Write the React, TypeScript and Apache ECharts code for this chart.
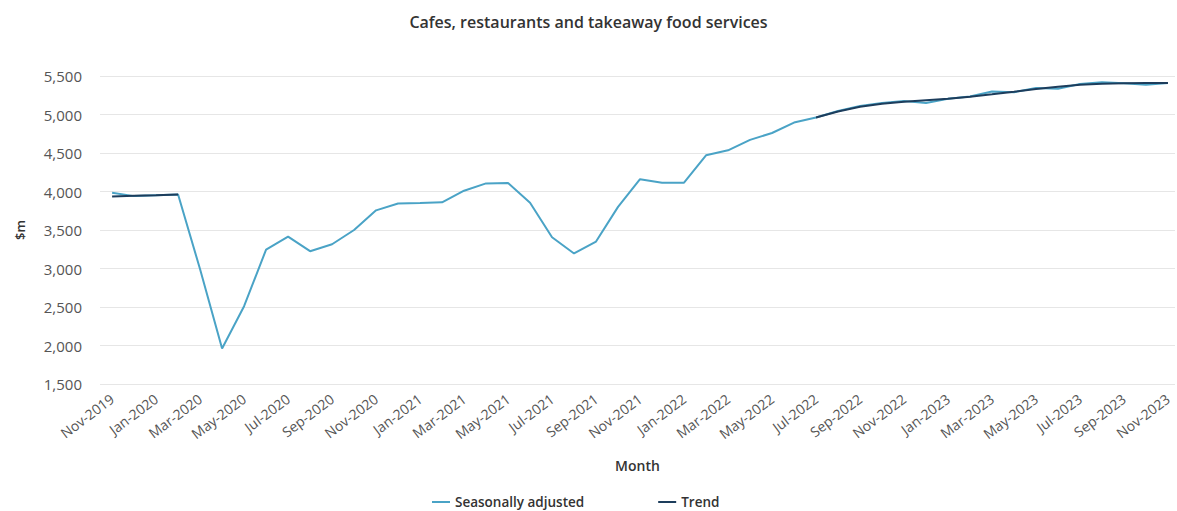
import React, { useEffect, useRef } from "react";
import * as echarts from "echarts";

const months = [
  "Nov-2019", "Dec-2019", "Jan-2020", "Feb-2020", "Mar-2020", "Apr-2020", "May-2020",
  "Jun-2020", "Jul-2020", "Aug-2020", "Sep-2020", "Oct-2020", "Nov-2020", "Dec-2020",
  "Jan-2021", "Feb-2021", "Mar-2021", "Apr-2021", "May-2021", "Jun-2021", "Jul-2021",
  "Aug-2021", "Sep-2021", "Oct-2021", "Nov-2021", "Dec-2021", "Jan-2022", "Feb-2022",
  "Mar-2022", "Apr-2022", "May-2022", "Jun-2022", "Jul-2022", "Aug-2022", "Sep-2022",
  "Oct-2022", "Nov-2022", "Dec-2022", "Jan-2023", "Feb-2023", "Mar-2023", "Apr-2023",
  "May-2023", "Jun-2023", "Jul-2023", "Aug-2023", "Sep-2023", "Oct-2023", "Nov-2023",
];

const seasonallyAdjusted = [
  3985, 3940, 3950, 3960, 2990, 1960, 2510, 3245, 3415, 3225, 3315, 3500, 3755, 3845,
  3850, 3860, 4010, 4105, 4110, 3855, 3405, 3195, 3350, 3800, 4160, 4115, 4115, 4470,
  4535, 4670, 4760, 4895, 4960, 5045, 5110, 5150, 5175, 5150, 5205, 5235, 5300, 5290,
  5345, 5335, 5395, 5420, 5405, 5385, 5410,
];

const trend: (number | null)[] = [
  3935, 3945, 3952, 3962, null, null, null, null, null, null, null, null, null, null,
  null, null, null, null, null, null, null, null, null, null, null, null, null, null,
  null, null, null, null, 4960, 5040, 5100, 5140, 5165, 5185, 5205, 5230, 5262, 5295,
  5330, 5360, 5385, 5400, 5405, 5408, 5410,
];

const labelIndices = months.map((_, i) => i).filter((i) => i % 2 === 0);

const SA_COLOR = "#4aa3c6";
const TREND_COLOR = "#1d3d5c";
const FONT = "'Open Sans', 'Noto Sans', sans-serif";

export default function App() {
  const ref = useRef<HTMLDivElement>(null);

  useEffect(() => {
    document.body.style.margin = "0";
    if (!ref.current) return;
    const chart = echarts.init(ref.current, undefined, { renderer: "svg" });
    chart.setOption({
      animation: false,
      textStyle: { fontFamily: FONT },
      title: {
        text: "Cafes, restaurants and takeaway food services",
        left: "center",
        top: 9,
        textStyle: { fontSize: 16, fontWeight: 600, color: "#333", fontFamily: FONT },
      },
      legend: {
        top: 494,
        left: 432,
        itemGap: 74,
        itemWidth: 18,
        itemHeight: 2,
        icon: "rect",
        padding: 0,
        textStyle: { fontSize: 13.5, fontWeight: 600, color: "#333", fontFamily: FONT, lineHeight: 16 },
        data: ["Seasonally adjusted", "Trend"],
      },
      grid: { left: 100, right: 2, top: 76, bottom: 127 },
      xAxis: {
        type: "value",
        min: -0.55,
        max: 48.32,
        name: "Month",
        nameLocation: "middle",
        nameGap: 74,
        nameTextStyle: { fontSize: 14, fontWeight: 600, color: "#333", fontFamily: FONT },
        axisLine: { show: false },
        axisTick: { show: false },
        splitLine: { show: false },
        axisLabel: {
          customValues: labelIndices,
          formatter: (v: number) => months[Math.round(v)] ?? "",
          rotate: 37,
          fontSize: 14,
          color: "#555",
          margin: 13,
          fontFamily: FONT,
        },
      },
      yAxis: {
        type: "value",
        min: 1500,
        max: 5500,
        interval: 500,
        name: "$m",
        nameLocation: "middle",
        nameGap: 74,
        nameTextStyle: { fontSize: 13, fontWeight: 600, color: "#333", fontFamily: FONT },
        axisLine: { show: false },
        axisTick: { show: false },
        splitLine: { lineStyle: { color: "#e6e6e6", width: 1 } },
        axisLabel: {
          formatter: (v: number) => v.toLocaleString("en-US"),
          fontSize: 15,
          color: "#555",
          margin: 18,
          fontFamily: FONT,
        },
      },
      series: [
        {
          name: "Seasonally adjusted",
          type: "line",
          data: seasonallyAdjusted.map((v, i) => [i, v]),
          showSymbol: false,
          symbol: "none",
          lineStyle: { color: SA_COLOR, width: 2 },
          itemStyle: { color: SA_COLOR },
        },
        {
          name: "Trend",
          type: "line",
          data: trend.map((v, i) => [i, v]),
          connectNulls: false,
          showSymbol: false,
          symbol: "none",
          lineStyle: { color: TREND_COLOR, width: 2 },
          itemStyle: { color: TREND_COLOR },
        },
      ],
    });
    return () => chart.dispose();
  }, []);

  return <div ref={ref} style={{ width: 1177, height: 511 }} />;
}
